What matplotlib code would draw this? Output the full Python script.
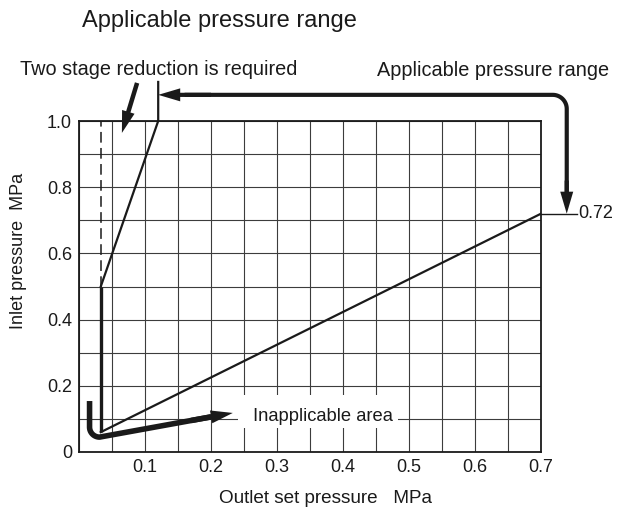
import numpy as np
import matplotlib
matplotlib.use("Agg")
import matplotlib.pyplot as plt
from matplotlib.patches import Rectangle

plt.rcParams['font.family'] = ['Liberation Sans', 'DejaVu Sans']

# ---- data ----
x_ticks = [0.1, 0.2, 0.3, 0.4, 0.5, 0.6, 0.7]
x_tick_labels = ['0.1', '0.2', '0.3', '0.4', '0.5', '0.6', '0.7']
y_ticks = [0, 0.2, 0.4, 0.6, 0.8, 1.0]
y_tick_labels = ['0', '0.2', '0.4', '0.6', '0.8', '1.0']

# upper boundary (two-stage reduction limit)
upper_thick_x = [0.033, 0.033]
upper_thick_y = [0.06, 0.5]
upper_thin_x = [0.033, 0.12, 0.12]
upper_thin_y = [0.5, 1.0, 1.118]
dashed_x = [0.034, 0.034]
dashed_y = [0.5, 1.0]
# lower boundary
lower_x = [0.033, 0.7]
lower_y = [0.06, 0.72]
max_label_value = 0.72

CLR = '#1a1a1a'

fig = plt.figure(figsize=(6.27, 5.08), dpi=100)
W, H = 627, 508
ax = fig.add_axes([79 / W, 56 / H, 462 / W, 331 / H])
ax.set_xlim(0, 0.7)
ax.set_ylim(0, 1.0)

# grid: lines every 0.05 on x, every 0.1 on y; labels only at the data ticks
xg = np.arange(0, 0.7001, 0.05)
ax.set_xticks(xg)
ax.set_xticklabels([next((l for v, l in zip(x_ticks, x_tick_labels) if abs(v - g) < 1e-6), '')
                    for g in xg])
yg = np.arange(0, 1.0001, 0.1)
ax.set_yticks(yg)
ax.set_yticklabels([next((l for v, l in zip(y_ticks, y_tick_labels) if abs(v - g) < 1e-6), '')
                    for g in yg])
ax.tick_params(length=0, labelsize=13, colors=CLR, pad=5)
ax.grid(True, color='#3c3c3c', lw=0.8)
for s in ax.spines.values():
    s.set_color(CLR)
    s.set_linewidth(1.3)

# white box behind label
ax.add_patch(Rectangle((0.241, 0.0725), 0.242, 0.1, facecolor='white',
                       edgecolor='none', zorder=2.5))

# boundary lines
ax.plot(upper_thick_x, upper_thick_y, color=CLR, lw=2.4, zorder=4, solid_capstyle='butt')
ax.plot(upper_thin_x, upper_thin_y, color=CLR, lw=1.6, zorder=4, clip_on=False)
ax.plot(dashed_x, dashed_y, color=CLR, lw=1.1, ls=(0, (7, 3.5)), zorder=4)
ax.plot(lower_x, lower_y, color=CLR, lw=1.6, zorder=4)
ax.plot([0.7, 0.755], [max_label_value, max_label_value], color=CLR, lw=1.0,
        zorder=4, clip_on=False)
ax.text(0.757, max_label_value, f'{max_label_value:.2f}', fontsize=13, color=CLR,
        va='center', ha='left', clip_on=False)


def head(tail_px):
    ms = 20.0
    unit = ms * 100 / 72.0
    return dict(arrowstyle=f'simple,head_length={22/unit:.3f},head_width={13/unit:.3f},'
                           f'tail_width={tail_px/unit:.3f}',
                mutation_scale=ms, facecolor=CLR, edgecolor='none', lw=0,
                shrinkA=0, shrinkB=0)


# big "applicable range" arrow with rounded corner
rx, ry = 14 / 660, 14 / 331
xr, yt = 0.739, 1.079
t = np.linspace(np.pi / 2, 0, 20)
px = np.concatenate([[0.16], xr - rx + rx * np.cos(t), [xr]])
py = np.concatenate([[yt], yt - ry + ry * np.sin(t), [0.78]])
ax.plot(px, py, color=CLR, lw=3.0, clip_on=False, zorder=5, solid_capstyle='butt')
ax.annotate('', xy=(0.12, yt), xytext=(0.2, yt), arrowprops=head(4.2),
            annotation_clip=False, zorder=5)
ax.annotate('', xy=(xr, max_label_value), xytext=(xr, 0.82),
            arrowprops=head(4.2), annotation_clip=False, zorder=5)

# two-stage arrow
ax.annotate('', xy=(0.065, 0.964), xytext=(0.088, 1.115),
            arrowprops=head(4.5), annotation_clip=False, zorder=5)

# inapplicable arrow
rx2, ry2 = 10 / 660, 10 / 331
xv, yb = 0.016, 0.045
tipx, tipy = 0.233, 0.118


def on_line(x):
    return yb + (x - (xv + rx2)) * (tipy - yb) / (tipx - xv - rx2)


t2 = np.linspace(np.pi, 1.5 * np.pi, 20)
qx = np.concatenate([[xv], xv + rx2 + rx2 * np.cos(t2), [0.2]])
qy = np.concatenate([[0.154], yb + ry2 + ry2 * np.sin(t2), [on_line(0.2)]])
ax.plot(qx, qy, color=CLR, lw=4.0, zorder=5, solid_capstyle='butt', clip_on=False)
ax.annotate('', xy=(tipx, tipy), xytext=(0.17, on_line(0.17)),
            arrowprops=head(5.5), annotation_clip=False, zorder=5)
ax.text(0.2636, 0.0937, 'Inapplicable area', fontsize=13.2, color=CLR,
        va='baseline', ha='left', zorder=6)

# figure texts
fig.text(82 / W, 1 - 27 / H, 'Applicable pressure range', fontsize=17, color=CLR,
         va='baseline', ha='left')
fig.text(20 / W, 1 - 75 / H, 'Two stage reduction is required', fontsize=14.3,
         color=CLR, va='baseline', ha='left')
fig.text(377 / W, 1 - 76 / H, 'Applicable pressure range', fontsize=14.3,
         color=CLR, va='baseline', ha='left')
fig.text(219 / W, 1 - 503 / H, 'Outlet set pressure   MPa', fontsize=13.6,
         color=CLR, va='baseline', ha='left')
fig.text(19 / W, 257 / H, 'Inlet pressure  MPa', fontsize=13, color=CLR,
         va='center', ha='center', rotation=90)

fig.savefig('out.png', dpi=100)
